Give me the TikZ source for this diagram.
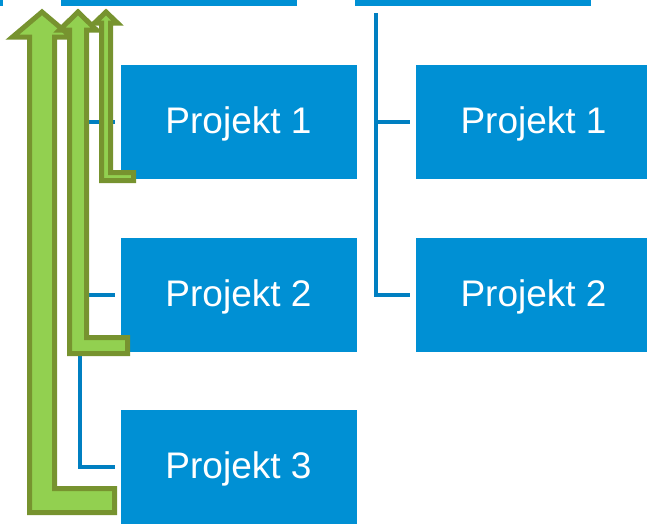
\documentclass[tikz,border=0pt]{standalone}
\usepackage{fontspec}
\setmainfont{Liberation Sans}
\usepackage{tikz}
\usepackage{xcolor}

\definecolor{boxblue}{HTML}{0090D4}
\definecolor{lineblue}{HTML}{007FC1}
\definecolor{arrowfill}{HTML}{92D050}
\definecolor{arrowline}{HTML}{77932F}

\tikzset{
    box/.style={fill=boxblue, draw=white, line width=0.6pt, minimum width=237pt,
        minimum height=115pt, inner sep=0pt, text=white, text depth=3pt,
        font=\fontsize{37}{40}\selectfont},
    link/.style={draw=lineblue, line width=4pt, shorten >=5pt},
    uparrow/.style={fill=arrowfill, draw=arrowline, line width=5pt}
}

\begin{document}
\begin{tikzpicture}[x=1pt, y=-1pt]
        \useasboundingbox (0,0) rectangle (647,523);

        \coordinate (lroot) at (80,13);
        \coordinate (rroot) at (375.5,13);

        \node[box] (top0) at (-115.5,-51.5) {};
        \node[box] (top1) at (178.5,-51.5) {};
        \node[box] (top2) at (472.5,-51.5) {};

        \node[box] (left1) at (238.5,121.5) {Projekt 1};
        \node[box] (left2) at (238.5,294.5) {Projekt 2};
        \node[box] (left3) at (238.5,466.5) {Projekt 3};

        \node[box] (right1) at (533.5,121.5) {Projekt 1};
        \node[box] (right2) at (533.5,294.5) {Projekt 2};

        \draw[link] (lroot) |- (left1.west);
        \draw[link] (lroot) |- (left2.west);
        \draw[link] (lroot) |- (left3.west);

        \draw[link] (rroot) |- (right1.west);
        \draw[link] (rroot) |- (right2.west);

        \draw[uparrow] (54.5,488.5) -- (114.5,488.5) -- (114.5,512.5) -- (29.5,512.5)
            -- (29.5,37) -- (12.5,37) -- (42,12) -- (71.5,37) -- (54.5,37) -- cycle;
        \draw[uparrow] (86.5,337.5) -- (127.5,337.5) -- (127.5,353.5) -- (69.5,353.5)
            -- (69.5,30) -- (59.5,30) -- (78,12) -- (96.5,30) -- (86.5,30) -- cycle;
        \draw[uparrow] (110.5,172.5) -- (133.5,172.5) -- (133.5,180.5) -- (101.5,180.5)
            -- (101.5,23) -- (94.5,23) -- (106,12) -- (117.5,23) -- (110.5,23) -- cycle;

\end{tikzpicture}
\end{document}
